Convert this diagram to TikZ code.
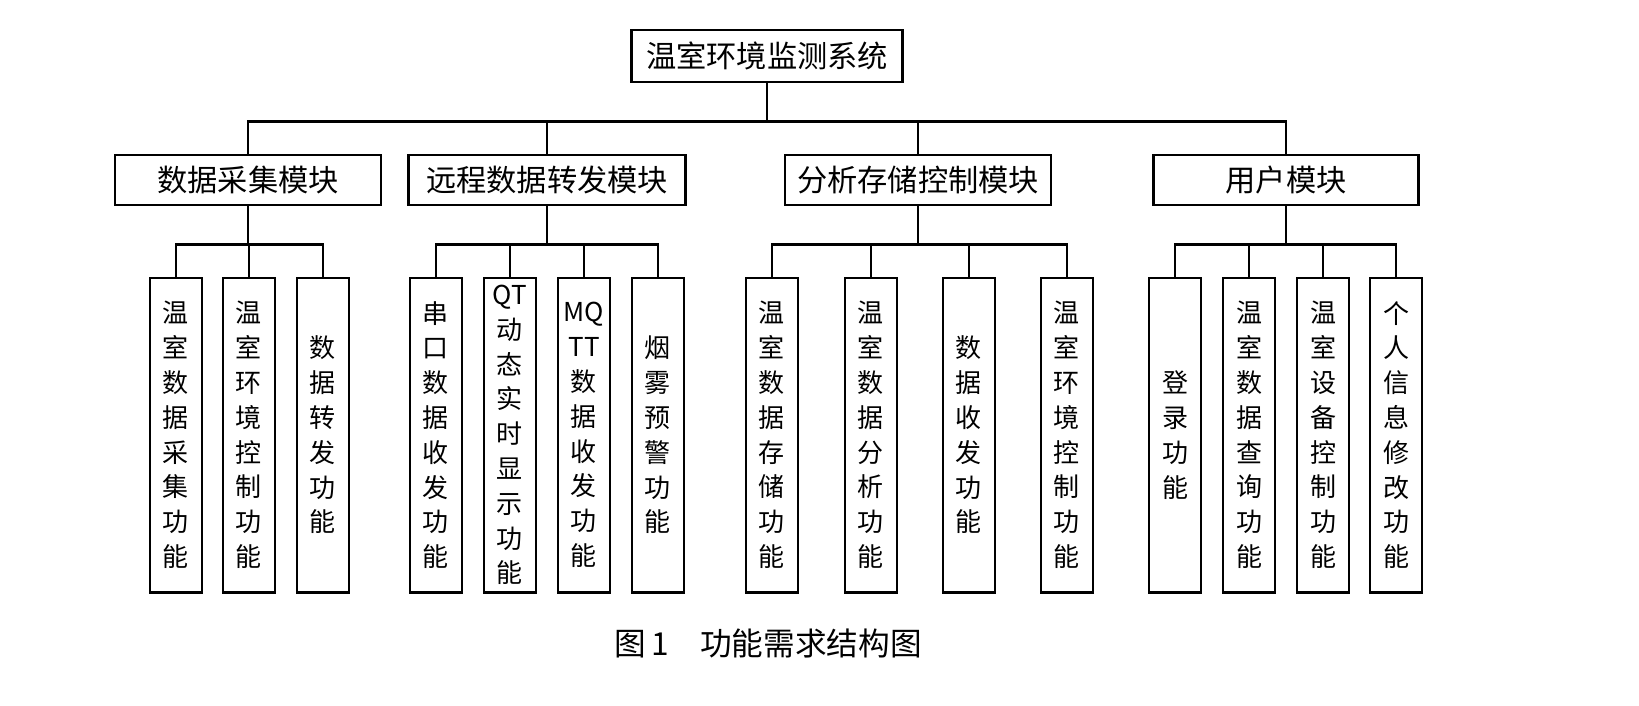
\documentclass[tikz,border=0pt]{standalone}
\usepackage{fontspec}
\setmainfont{Noto Sans CJK SC}
\tikzset{
  box/.style={draw,thick,inner sep=0pt,font=\fontsize{8.6}{10}\selectfont},
  leafbox/.style={draw,thick,inner sep=0pt,minimum width=0.52cm,minimum height=3.14cm,
    align=center,font=\fontsize{7.4}{9.9}\selectfont}
}
\begin{document}
\begin{tikzpicture}[x=0.01cm,y=-0.01cm]
\node[box,minimum width=2.71cm,minimum height=0.52cm](top) at (767,56){温室环境监测系统};
\node[box,minimum width=2.66cm,minimum height=0.5cm](m1) at (248,180){数据采集模块};
\node[box,minimum width=2.77cm,minimum height=0.5cm](m2) at (547,180){远程数据转发模块};
\node[box,minimum width=2.66cm,minimum height=0.5cm](m3) at (918,180){分析存储控制模块};
\node[box,minimum width=2.65cm,minimum height=0.5cm](m4) at (1286,180){用户模块};
\foreach \m in {m1,m2,m3,m4}
  \draw[thick](top.south)--++(0,38)-|(\m.north);
% leaves
\node[leafbox](a1) at (176,435){温\\室\\数\\据\\采\\集\\功\\能};
\node[leafbox](a2) at (249,435){温\\室\\环\\境\\控\\制\\功\\能};
\node[leafbox](a3) at (323,435){数\\据\\转\\发\\功\\能};
\node[leafbox](b1) at (436,435){串\\口\\数\\据\\收\\发\\功\\能};
\node[leafbox](b2) at (510,435){QT\\动\\态\\实\\时\\显\\示\\功\\能};
\node[leafbox](b3) at (584,435){MQ\\TT\\数\\据\\收\\发\\功\\能};
\node[leafbox](b4) at (658,435){烟\\雾\\预\\警\\功\\能};
\node[leafbox](c1) at (772,435){温\\室\\数\\据\\存\\储\\功\\能};
\node[leafbox](c2) at (871,435){温\\室\\数\\据\\分\\析\\功\\能};
\node[leafbox](c3) at (969,435){数\\据\\收\\发\\功\\能};
\node[leafbox](c4) at (1067,435){温\\室\\环\\境\\控\\制\\功\\能};
\node[leafbox](d1) at (1175,435){登\\录\\功\\能};
\node[leafbox](d2) at (1249,435){温\\室\\数\\据\\查\\询\\功\\能};
\node[leafbox](d3) at (1323,435){温\\室\\设\\备\\控\\制\\功\\能};
\node[leafbox](d4) at (1396,435){个\\人\\信\\息\\修\\改\\功\\能};
\foreach \l in {a1,a2,a3}
  \draw[thick](m1.south)--++(0,38)-|(\l.north);
\foreach \l in {b1,b2,b3,b4}
  \draw[thick](m2.south)--++(0,38)-|(\l.north);
\foreach \l in {c1,c2,c3,c4}
  \draw[thick](m3.south)--++(0,38)-|(\l.north);
\foreach \l in {d1,d2,d3,d4}
  \draw[thick](m4.south)--++(0,38)-|(\l.north);
\node[font=\fontsize{9}{11}\selectfont](cap) at (768,643){图\,1\quad 功能需求结构图};
\pgfresetboundingbox
\useasboundingbox (0,0) rectangle (1639,705);
\end{tikzpicture}
\end{document}
